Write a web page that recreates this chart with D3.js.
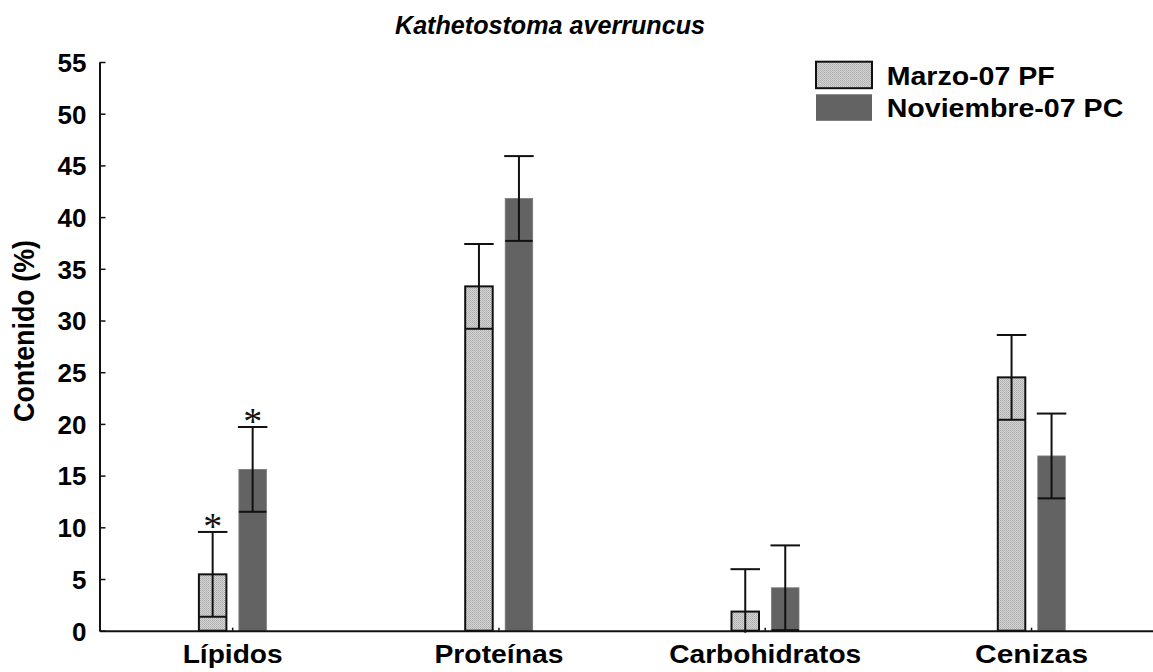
<!DOCTYPE html>
<html>
<head>
<meta charset="utf-8">
<script src="https://cdn.jsdelivr.net/npm/d3@7"></script>
<style>
  html, body { margin: 0; padding: 0; background: #fff; }
  svg { display: block; }
  text { font-family: "Liberation Sans", Arial, Helvetica, sans-serif; }
</style>
</head>
<body>
<svg id="chart" width="1153" height="672"></svg>
<script>
const categories = ["Lípidos", "Proteínas", "Carbohidratos", "Cenizas"];
const seriesNames = ["Marzo-07 PF", "Noviembre-07 PC"];
const marzoValues = [5.45, 33.3, 1.85, 24.5];
const marzoSd = [4.1, 4.1, 4.1, 4.1];
const noviembreValues = [15.6, 41.8, 4.15, 16.9];
const noviembreSd = [4.1, 4.1, 4.1, 4.1];
const significant = [[true, true], [false, false], [false, false], [false, false]];
const yTicks = [0, 5, 10, 15, 20, 25, 30, 35, 40, 45, 50, 55];
const titleText = "Kathetostoma averruncus";
const yLabelText = "Contenido (%)";

const svg = d3.select("#chart");
const axisX = 99.5, axisY0 = 630.7, axisTop = 62;
const step = 266.3;

const defs = svg.append("defs");
const pat = defs.append("pattern").attr("id", "dots")
  .attr("width", 2).attr("height", 2).attr("patternUnits", "userSpaceOnUse");
pat.append("rect").attr("width", 2).attr("height", 2).attr("fill", "#d6d6d6");
pat.append("rect").attr("width", 1).attr("height", 1).attr("fill", "#aaaaaa");
pat.append("rect").attr("x", 1).attr("y", 1).attr("width", 1).attr("height", 1).attr("fill", "#b6b6b6");

const y = d3.scaleLinear().domain([0, 55]).range([axisY0, axisTop]);
const x = d3.scaleBand().domain(categories).range([axisX, axisX + step * categories.length]).padding(0);
const xs = d3.scaleBand().domain(seriesNames).range([-40, 40]).paddingInner(0.3125).paddingOuter(0.15625);

const series = [
  { name: seriesNames[0], values: marzoValues, sd: marzoSd, fill: "url(#dots)", stroke: "#111", sw: 2 },
  { name: seriesNames[1], values: noviembreValues, sd: noviembreSd, fill: "#636363", stroke: "#7a7a7a", sw: 0.8 }
];

// Bars
series.forEach((s) => {
  const bw = xs.bandwidth();
  svg.append("g").selectAll("rect").data(categories).join("rect")
    .attr("x", c => x(c) + x.bandwidth() / 2 + xs(s.name))
    .attr("y", (c, i) => y(s.values[i]))
    .attr("width", bw)
    .attr("height", (c, i) => y(0) - y(s.values[i]))
    .attr("fill", s.fill)
    .attr("stroke", s.stroke)
    .attr("stroke-width", s.sw);
});

// Error bars
series.forEach((s, si) => {
  const g = svg.append("g").attr("stroke", "#111").attr("stroke-width", 2);
  const bw = xs.bandwidth();
  categories.forEach((c, i) => {
    const cx = x(c) + x.bandwidth() / 2 + xs(s.name) + bw / 2;
    const hi = s.values[i] + s.sd[i];
    const lo = s.values[i] - s.sd[i];
    const yLo = lo < 0 ? y(0) + 2 : y(lo);
    g.append("line").attr("x1", cx).attr("x2", cx).attr("y1", y(hi)).attr("y2", yLo);
    g.append("line").attr("x1", cx - bw / 2 - 1).attr("x2", cx + bw / 2 + 1).attr("y1", y(hi)).attr("y2", y(hi));
    if (lo >= 0) {
      g.append("line").attr("x1", cx - bw / 2).attr("x2", cx + bw / 2).attr("y1", y(lo)).attr("y2", y(lo));
    }
    if (significant[i][si]) {
      svg.append("text")
        .attr("x", cx).attr("y", y(hi) + 7)
        .attr("text-anchor", "middle")
        .style("font-family", "'Liberation Serif', 'Times New Roman', serif")
        .style("font-size", "38px")
        .attr("fill", "#111")
        .text("*");
    }
  });
});

// Y axis
const yAxis = d3.axisLeft(y).tickValues(yTicks).tickSizeInner(-6).tickSizeOuter(0).tickPadding(13);
const gy = svg.append("g").attr("transform", `translate(${axisX},0)`).call(yAxis);
gy.select(".domain").attr("stroke", "#111").attr("stroke-width", 2);
gy.selectAll(".tick line").attr("stroke", "#111").attr("stroke-width", 1.5);
gy.selectAll(".tick text")
  .attr("fill", "#000")
  .style("font-family", "'Liberation Sans', Arial, sans-serif")
  .style("font-size", "26px")
  .style("font-weight", "bold")
  .attr("dy", "0.36em");

// X axis
const xAxis = d3.axisBottom(x).tickSizeInner(-3).tickSizeOuter(0).tickPadding(14);
const gx = svg.append("g").attr("transform", `translate(0,${axisY0})`).call(xAxis);
gx.select(".domain").attr("stroke", "#111").attr("stroke-width", 2);
gx.selectAll(".tick line").attr("stroke", "#111").attr("stroke-width", 1.5);
const xLabelWidths = { "Lípidos": 100, "Proteínas": 129, "Carbohidratos": 192, "Cenizas": 113 };
gx.selectAll(".tick text")
  .attr("fill", "#000")
  .attr("y", 32).attr("dy", 0)
  .style("font-family", "'Liberation Sans', Arial, sans-serif")
  .style("font-size", "25px")
  .style("font-weight", "bold")
  .attr("textLength", d => xLabelWidths[d])
  .attr("lengthAdjust", "spacingAndGlyphs");

// Title
svg.append("text")
  .attr("x", 550).attr("y", 34)
  .attr("text-anchor", "middle")
  .style("font-size", "26px").style("font-weight", "bold").style("font-style", "italic")
  .attr("textLength", 310).attr("lengthAdjust", "spacingAndGlyphs")
  .text(titleText);

// Y label
svg.append("text")
  .attr("transform", "translate(34,331) rotate(-90)")
  .attr("text-anchor", "middle")
  .style("font-size", "29px").style("font-weight", "bold")
  .attr("textLength", 182).attr("lengthAdjust", "spacingAndGlyphs")
  .text(yLabelText);

// Legend
const legend = svg.append("g");
const legendY = [61.7, 94.3];
series.forEach((s, i) => {
  legend.append("rect")
    .attr("x", 816).attr("y", legendY[i])
    .attr("width", 56).attr("height", 26.5)
    .attr("fill", s.fill)
    .attr("stroke", i === 0 ? "#111" : "none")
    .attr("stroke-width", 2);
  legend.append("text")
    .attr("x", 886.7).attr("y", legendY[i] + 23)
    .style("font-size", "25px").style("font-weight", "bold")
    .attr("textLength", i === 0 ? 168 : 236.6).attr("lengthAdjust", "spacingAndGlyphs")
    .text(s.name);
});
</script>
</body>
</html>
